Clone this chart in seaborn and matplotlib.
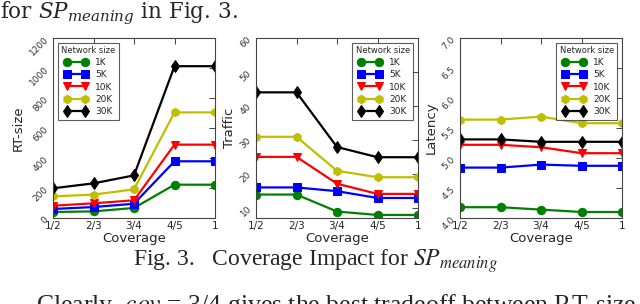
import numpy as np
import pandas as pd
import matplotlib
matplotlib.use("Agg")
import matplotlib.pyplot as plt
import seaborn as sns

# values
coverage = ["1/2", "2/3", "3/4", "4/5", "1"]
sizes = ["1K", "5K", "10K", "20K", "30K"]

rt_1k = [40, 44, 67, 222, 222]
rt_5k = [60, 73, 95, 378, 378]
rt_10k = [82, 98, 118, 489, 489]
rt_20k = [144, 156, 191, 704, 704]
rt_30k = [198, 231, 284, 1012, 1012]

tr_1k = [13.9, 13.9, 8.9, 7.9, 7.9]
tr_5k = [16.0, 16.0, 14.9, 12.9, 12.9]
tr_10k = [25.0, 25.0, 17.1, 14.1, 14.1]
tr_20k = [30.9, 30.9, 20.9, 19.0, 19.0]
tr_30k = [44.0, 44.0, 27.9, 24.9, 24.9]

lat_1k = [4.18, 4.18, 4.14, 4.10, 4.10]
lat_5k = [4.84, 4.84, 4.89, 4.87, 4.87]
lat_10k = [5.22, 5.22, 5.18, 5.08, 5.08]
lat_20k = [5.64, 5.64, 5.69, 5.58, 5.58]
lat_30k = [5.31, 5.31, 5.27, 5.27, 5.27]

colors = ["#008000", "#0000ff", "#ff0000", "#bfbf00", "#000000"]
markers = ["o", "s", "v", "h", "d"]

sns.set_style("white")
plt.rcParams["mathtext.fontset"] = "stix"

fig = plt.figure(figsize=(6.4, 3.04), dpi=100)
fig.patch.set_facecolor("white")

panels = [
    ("RT-size", [rt_1k, rt_5k, rt_10k, rt_20k, rt_30k], (0, 1200), np.arange(0, 1201, 200), "upper left", "%d"),
    ("Traffic", [tr_1k, tr_5k, tr_10k, tr_20k, tr_30k], (7, 60), np.arange(10, 61, 10), "upper right", "%d"),
    ("Latency", [lat_1k, lat_5k, lat_10k, lat_20k, lat_30k], (4.0, 7.0), np.arange(4.0, 7.01, 0.5), "upper right", "%.1f"),
]
lefts = [53 / 640, 256 / 640, 460 / 640]
x = np.arange(len(coverage))

for left, (ylab, series, ylim, yticks, loc, fmt) in zip(lefts, panels):
    ax = fig.add_axes([left, 86 / 304, 162 / 640, 180 / 304])
    for vals, name, c, m in zip(series, sizes, colors, markers):
        sns.lineplot(x=x, y=vals, color=c, marker=m, markersize=6,
                     markeredgecolor=c, linewidth=1.6, ax=ax, label=name)
    ax.set_xlim(0, 4)
    ax.set_ylim(*ylim)
    ax.set_xticks(x)
    ax.set_xticklabels(coverage, fontsize=7.5)
    ax.set_yticks(yticks)
    ax.set_yticklabels([fmt % v for v in yticks], fontsize=6.5, rotation=45, color="#333333")
    ax.set_xlabel("Coverage", fontsize=9.5, labelpad=1)
    ax.set_ylabel(ylab, fontsize=9.5, labelpad=2)
    ax.tick_params(direction="in", top=True, right=True, length=4, width=0.6, pad=2)
    for s in ax.spines.values():
        s.set_color("#444444")
        s.set_linewidth(0.8)
    h, l = ax.get_legend_handles_labels()
    leg = ax.legend(h, l, loc=loc, title="Network size", fontsize=6.5,
                    title_fontsize=6, numpoints=2, handlelength=2.6,
                    labelspacing=0.35, borderpad=0.4, frameon=True,
                    fancybox=False, edgecolor="#333333")
    leg.get_frame().set_linewidth(0.8)

# surrounding page text
fig.text(0.0, 1 - 18 / 304, r"for $SP_{meaning}$ in Fig. 3.", fontsize=15.5,
         family="DejaVu Serif", math_fontfamily="dejavuserif",
         va="baseline", ha="left")
fig.text(133 / 640, 1 - 266 / 304, r"Fig. 3.   Coverage Impact for $SP_{meaning}$",
         fontsize=17, family="Liberation Serif", va="baseline", ha="left")
fig.text(36 / 640, 1 - 292 / 304, r"Clearly, $cov$ = 3/4 gives the best tradeoff between RT-size",
         fontsize=18.5, family="Liberation Serif", va="top", ha="left")

fig.savefig("out.png", dpi=100, facecolor="white")
